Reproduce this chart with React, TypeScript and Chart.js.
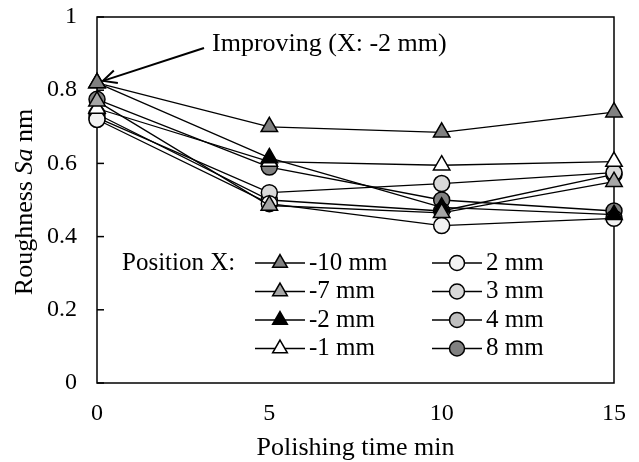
import { useEffect, useRef } from 'react';
import { Chart, registerables } from 'chart.js';

Chart.register(...registerables);

const FONT = "'Liberation Serif', 'Times New Roman', serif";

// Polishing time (min)
const times = [0, 5, 10, 15];
// Roughness Sa (nm) per position X
const m10 = [0.82, 0.70, 0.685, 0.74];
const m7 = [0.77, 0.485, 0.465, 0.55];
const m2 = [0.82, 0.615, 0.48, 0.46];
const m1 = [0.75, 0.605, 0.595, 0.605];
const p2 = [0.72, 0.49, 0.43, 0.45];
const p3 = [0.725, 0.52, 0.545, 0.575];
const p4 = [0.735, 0.50, 0.47, 0.57];
const p8 = [0.775, 0.59, 0.50, 0.47];

const seriesLabels = ['-10 mm', '-7 mm', '-2 mm', '-1 mm', '2 mm', '3 mm', '4 mm', '8 mm'];
const seriesValues = [m10, m7, m2, m1, p2, p3, p4, p8];
const seriesShapes = ['triangle', 'triangle', 'triangle', 'triangle', 'circle', 'circle', 'circle', 'circle'];
const seriesFills = ['#808080', '#a6a6a6', '#000000', '#ffffff', '#f2f2f2', '#d9d9d9', '#bfbfbf', '#808080'];

const yTicks = [0, 0.2, 0.4, 0.6, 0.8, 1];
const xTicks = [0, 5, 10, 15];

const annotationText = 'Improving (X: -2 mm)';
const annotationSeries = 2; // -2 mm
const legendTitle = 'Position X:';
const xTitle = 'Polishing time min';

function drawMarker(ctx: CanvasRenderingContext2D, shape: string, x: number, y: number, r: number, fill: string) {
  ctx.beginPath();
  if (shape === 'triangle') {
    for (let i = 0; i < 3; i++) {
      const ang = (i * 2 * Math.PI) / 3;
      const px = x + Math.sin(ang) * r;
      const py = y - Math.cos(ang) * r;
      if (i === 0) ctx.moveTo(px, py);
      else ctx.lineTo(px, py);
    }
    ctx.closePath();
  } else {
    ctx.arc(x, y, r, 0, Math.PI * 2);
  }
  ctx.fillStyle = fill;
  ctx.fill();
  ctx.lineWidth = 1.5;
  ctx.strokeStyle = '#000';
  ctx.stroke();
}

const decorPlugin = {
  id: 'decor',
  beforeDatasetsDraw(chart: any) {
    const { ctx, chartArea: a, scales } = chart;
    ctx.save();
    ctx.strokeStyle = '#000';
    ctx.lineWidth = 1.5;
    ctx.strokeRect(a.left, a.top, a.right - a.left, a.bottom - a.top);
    yTicks.forEach((v) => {
      const y = scales.y.getPixelForValue(v);
      ctx.beginPath();
      ctx.moveTo(a.left, y);
      ctx.lineTo(a.left + 7, y);
      ctx.stroke();
    });
    ctx.restore();
  },
  afterDraw(chart: any) {
    const { ctx, chartArea: a, scales } = chart;
    ctx.save();
    ctx.fillStyle = '#000';
    ctx.strokeStyle = '#000';
    ctx.textBaseline = 'middle';
    const legendFont = `25px ${FONT}`;
    const normal = `26px ${FONT}`;
    const italic = `italic 26px ${FONT}`;

    // Legend
    ctx.font = legendFont;
    ctx.textAlign = 'left';
    const rowTop = a.top + 246;
    const rowGap = 28.5;
    ctx.fillText(legendTitle, a.left + 25, rowTop);
    const cols = [a.left + 158, a.left + 335];
    seriesLabels.forEach((lab, i) => {
      const col = Math.floor(i / 4);
      const row = i % 4;
      const x0 = cols[col];
      const y = rowTop + row * rowGap;
      ctx.lineWidth = 1.3;
      ctx.strokeStyle = '#000';
      ctx.beginPath();
      ctx.moveTo(x0, y);
      ctx.lineTo(x0 + 50, y);
      ctx.stroke();
      drawMarker(ctx, seriesShapes[i], x0 + 25, y, seriesShapes[i] === 'triangle' ? 8.5 : 7.5, seriesFills[i]);
      ctx.fillStyle = '#000';
      ctx.fillText(lab, x0 + 54, y);
    });

    // Annotation with arrow
    ctx.font = normal;
    const tipX = scales.x.getPixelForValue(times[0]) + 6;
    const tipY = scales.y.getPixelForValue(seriesValues[annotationSeries][0]) - 2;
    const textX = a.left + 115;
    const textY = a.top + 27;
    ctx.fillText(annotationText, textX, textY);
    const tailX = textX - 8;
    const tailY = textY + 4;
    ctx.lineWidth = 2;
    ctx.beginPath();
    ctx.moveTo(tailX, tailY);
    ctx.lineTo(tipX, tipY);
    ctx.stroke();
    const ang = Math.atan2(tipY - tailY, tipX - tailX);
    const hl = 15;
    ctx.beginPath();
    ctx.moveTo(tipX - hl * Math.cos(ang - 0.45), tipY - hl * Math.sin(ang - 0.45));
    ctx.lineTo(tipX, tipY);
    ctx.lineTo(tipX - hl * Math.cos(ang + 0.45), tipY - hl * Math.sin(ang + 0.45));
    ctx.stroke();

    // X title
    ctx.textAlign = 'center';
    ctx.fillText(xTitle, (a.left + a.right) / 2, a.bottom + 65);

    // Y title (mixed italic)
    const parts = [
      { t: 'Roughness ', f: normal },
      { t: 'Sa', f: italic },
      { t: ' nm', f: normal },
    ];
    let total = 0;
    parts.forEach((p) => {
      ctx.font = p.f;
      total += ctx.measureText(p.t).width;
    });
    ctx.translate(25, (a.top + a.bottom) / 2 + 2);
    ctx.rotate(-Math.PI / 2);
    ctx.textAlign = 'left';
    let x = -total / 2;
    parts.forEach((p) => {
      ctx.font = p.f;
      ctx.fillText(p.t, x, 0);
      x += ctx.measureText(p.t).width;
    });
    ctx.restore();
  },
};

export default function App() {
  const ref = useRef<HTMLCanvasElement>(null);

  useEffect(() => {
    if (!ref.current) return;
    const datasets = seriesLabels.map((label, i) => ({
      label,
      data: times.map((t, j) => ({ x: t, y: seriesValues[i][j] })),
      borderColor: '#000',
      borderWidth: 1.3,
      pointStyle: seriesShapes[i],
      pointRadius: seriesShapes[i] === 'triangle' ? 9.5 : 8,
      pointBackgroundColor: seriesFills[i],
      pointBorderColor: '#000',
      pointBorderWidth: 1.5,
      fill: false,
      tension: 0,
      clip: false as any,
    }));
    const chart = new Chart(ref.current, {
      type: 'line',
      data: { datasets },
      options: {
        animation: false,
        responsive: false,
        maintainAspectRatio: false,
        layout: { padding: { left: 0, right: 25, top: 17, bottom: 0 } },
        plugins: { legend: { display: false }, tooltip: { enabled: false }, title: { display: false } },
        scales: {
          x: {
            type: 'linear',
            min: xTicks[0],
            max: xTicks[xTicks.length - 1],
            afterBuildTicks: (s: any) => {
              s.ticks = xTicks.map((v) => ({ value: v }));
            },
            afterFit: (s: any) => {
              s.height = 79;
              s.paddingLeft = 0;
              s.paddingRight = 0;
            },
            grid: { display: false, drawTicks: false },
            border: { display: false },
            ticks: { font: { family: FONT, size: 24 }, color: '#000', padding: 16, maxRotation: 0 },
          },
          y: {
            type: 'linear',
            min: yTicks[0],
            max: yTicks[yTicks.length - 1],
            afterBuildTicks: (s: any) => {
              s.ticks = yTicks.map((v) => ({ value: v }));
            },
            afterFit: (s: any) => {
              s.width = 97;
              s.paddingTop = 0;
              s.paddingBottom = 0;
            },
            grid: { display: false, drawTicks: false },
            border: { display: false },
            ticks: {
              font: { family: FONT, size: 24 },
              color: '#000',
              padding: 20,
              callback: (v: any) => String(Math.round(Number(v) * 10) / 10),
            },
          },
        },
      },
      plugins: [decorPlugin],
    });
    return () => chart.destroy();
  }, []);

  return (
    <div style={{ position: 'fixed', left: 0, top: 0, width: 639, height: 462, background: '#fff' }}>
      <canvas ref={ref} width={639} height={462} style={{ width: 639, height: 462, display: 'block' }} />
    </div>
  );
}
